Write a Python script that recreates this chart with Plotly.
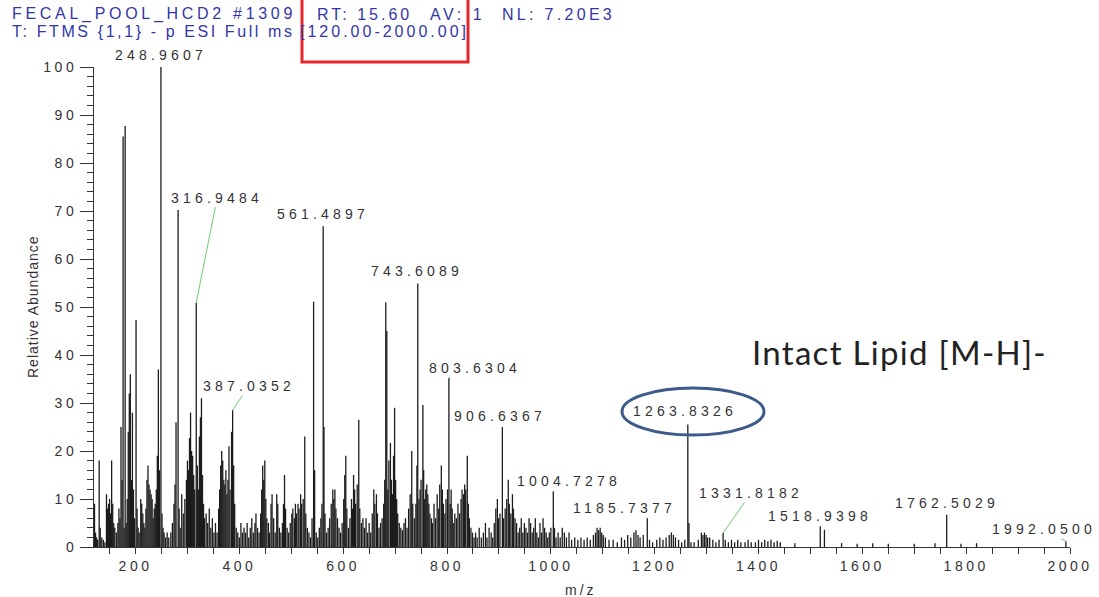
import plotly.graph_objects as go

# ---- spectrum: centroid sticks (m/z, relative abundance %) ----
mz = [
    121, 123, 125, 127, 130, 132, 135, 138, 141, 144, 146, 148, 150, 152, 154, 156, 158, 160, 163, 166, 168, 170,
    172, 174, 176, 178, 180, 182, 184, 186, 188, 190, 192, 194, 196, 198, 201, 203, 205, 207,
    210, 212, 214, 216, 218, 220, 222, 224, 226, 228, 230, 232, 234, 236, 238, 240, 242, 244, 246, 248.9607, 251, 253, 255,
    258, 261, 264, 268, 271, 274, 276, 278, 282, 284, 286, 289, 292, 295, 298, 300, 302,
    304, 306, 308, 310, 312, 314, 316.9484, 319, 321, 323, 325, 327, 329, 331, 333, 336, 339,
    342, 345, 348, 351, 354, 357, 360, 362, 364, 366, 368, 370, 372, 374, 376, 378, 380, 382, 385, 387.0352, 389, 391, 394, 397,
    400, 403, 406, 409, 412, 415, 418, 421, 424, 427, 430, 432, 435, 438,
    441, 443, 445, 447, 449, 451, 453, 456, 458, 461, 463, 466, 469, 472, 474, 477, 480, 483, 485, 487, 489, 492, 495, 498,
    501, 503, 506, 508, 510, 513, 515, 518, 520, 523, 526, 528, 531, 534, 537, 540, 543, 545, 548, 551, 554, 557, 559,
    561.4897, 563, 565, 568, 571, 574, 577, 580, 582, 584, 586, 589, 592, 595, 598, 601, 603, 605, 607, 610, 613, 616, 618,
    620, 622, 624, 627, 630, 632, 635, 638, 641, 644, 647, 650, 653, 656, 659, 661, 664, 666, 669, 672, 675, 678,
    680, 682, 684, 686, 688, 691, 693, 695, 697, 699, 701, 703, 705, 708, 711, 714, 717, 720, 723, 726, 729, 732, 734, 737, 740, 742,
    743.6089, 746, 748, 750, 753.5, 755, 757, 759, 761, 763, 765, 767, 770, 772, 775, 778, 781, 784, 786, 789, 791, 793, 796, 798, 801,
    803.6304, 806, 808, 810, 812, 815, 818, 821, 824, 827, 829, 832, 834, 836, 839, 841, 843, 846, 849, 852, 855, 858,
    862, 866, 870, 874, 877, 881, 885, 888, 891, 894, 897, 899, 902,
    906.6367, 909, 912, 915, 918, 920, 923, 926, 928, 931, 934, 937, 940, 943, 946, 949, 952, 955, 958,
    961, 964, 967, 970, 973, 976, 979, 982, 985, 988, 991, 994, 997, 1000, 1004.7278, 1007, 1010, 1014, 1018, 1022, 1026, 1030, 1035, 1040, 1046,
    1052, 1058, 1064, 1070, 1076, 1082, 1086, 1089, 1092, 1095, 1098, 1101, 1105, 1112, 1120, 1128, 1136, 1142, 1148, 1154, 1160, 1164, 1168, 1172, 1178, 1185.7377, 1190, 1196,
    1204, 1210, 1216, 1222, 1228, 1232, 1236, 1240, 1246, 1252, 1258, 1263.8326, 1266, 1270,
    1276, 1284, 1290, 1293, 1296, 1299, 1302, 1306, 1312, 1318, 1324, 1331.8182, 1336, 1342, 1348, 1354, 1360, 1366, 1374, 1380, 1386, 1394, 1400, 1406, 1412, 1418, 1424, 1430, 1436, 1442,
    1470, 1518.9398, 1527, 1560, 1590, 1620, 1650, 1700, 1740, 1762.5029, 1790, 1820, 1992.0500,
]
intensity = [
    9, 3, 2, 1.5, 18, 4, 2, 1.5, 1, 11, 8, 9, 10, 7, 18, 9, 5, 4, 3, 5, 8, 6,
    25, 14, 85.5, 4, 87.7, 5, 10, 24, 32, 36, 14, 28, 12, 6, 47.3, 8, 4, 3,
    10, 9, 7, 5, 4, 8, 14, 17, 13, 12, 11, 10, 6, 8, 9, 12, 19, 37, 16, 100, 7, 4, 3,
    2, 3, 2, 3, 5, 9, 13, 26, 70.2, 8, 4, 11, 7, 10, 14, 18, 16,
    22.7, 28, 20, 19, 15, 12, 50.9, 17, 12, 23, 27, 31, 15, 9, 6, 7, 5,
    8, 4, 6, 3, 5, 3, 8, 12, 17, 20, 18, 14, 13, 16, 11, 14, 21, 12, 24, 28.5, 17, 9, 4, 3,
    2, 5, 3, 4, 3, 5, 2, 4, 6, 3, 5, 7, 4, 3,
    7, 12, 17, 14, 18, 10, 6, 5, 3, 9, 11, 6, 3, 11, 9, 4, 3, 5, 9, 15, 8, 4, 3, 5,
    7, 8, 6, 9, 7, 9, 8, 11, 9, 10, 23, 7, 4, 3, 2, 6, 51.1, 16, 3, 2, 4, 6, 9,
    66.8, 25, 7, 3, 4, 6, 9, 12, 10, 12, 8, 6, 4, 3, 5, 10, 15, 19, 8, 4, 6, 10, 8,
    15, 12, 9, 13, 26.5, 8, 5, 6, 4, 6, 3, 5, 3, 7, 12, 9, 11, 7, 4, 5, 6, 9,
    14, 51, 45, 12, 18, 21.7, 14, 11, 19, 29, 14, 10, 7, 5, 4, 3.5, 5, 6, 4, 8, 11, 20, 9, 6, 9, 17,
    54.9, 10, 12, 14, 29.6, 16, 10, 12, 13, 11, 9, 7, 6, 5, 9, 6, 11, 8, 13, 17, 12, 9, 7, 10, 12,
    35.2, 9, 12, 8, 5, 7, 6, 9, 7, 10, 12, 11, 13, 12, 19, 9, 6, 4, 3, 2, 3, 2,
    4, 2, 3, 5, 2, 4, 3, 2, 5, 8, 10, 6, 7,
    25.0, 6, 8, 10, 14, 9, 7, 11, 8, 6, 5, 3, 4, 6, 3, 5, 4, 3, 6,
    5, 3, 4, 6, 3, 2, 5, 3, 6, 4, 3, 2, 3, 4, 11.6, 4, 2, 3, 2, 4, 3, 2, 3, 1.5, 2,
    1.5, 2, 1.5, 2, 1.5, 2.5, 3, 4, 3.5, 4, 3, 2.5, 2, 1.5, 1.5, 1, 2, 1.5, 2.5, 2, 3, 3.5, 2.5, 2, 2.5, 6.0, 1.5, 1,
    1.5, 2, 1.5, 2, 2.5, 3, 2.5, 2, 1.5, 1, 1.5, 25.5, 5, 1,
    1, 1.5, 3, 2.5, 3, 2.5, 2, 2, 1.5, 1, 1.5, 2.9, 1.5, 1, 1.5, 1, 1.5, 1, 1, 1.5, 1, 1, 1.5, 1, 1.5, 1.2, 1.5, 1, 1.3, 1,
    0.8, 4.3, 3.6, 0.8, 0.7, 0.8, 0.7, 0.7, 0.8, 6.7, 0.7, 0.8, 1.2,
]

# annotated peaks and the pixel offset of each label from its peak top (dx, dy, leader)
labelled_mz = [248.9607, 316.9484, 387.0352, 561.4897, 743.6089, 803.6304, 906.6367,
               1004.7278, 1185.7377, 1263.8326, 1331.8182, 1518.9398, 1762.5029, 1992.0500]
label_offsets = [(0, -12, False), (21, -105, True), (16, -24, True), (0, -12, False),
                 (-1, -12, False), (26, -10, True), (-2, -11, False), (16, -10, True),
                 (-23, -10, True), (-3, -14, False), (28, -40, True), (0, -10, False),
                 (0, -12, False), (-22, -12, True)]

x_tick_vals = [200, 400, 600, 800, 1000, 1200, 1400, 1600, 1800, 2000]
y_tick_vals = [0, 10, 20, 30, 40, 50, 60, 70, 80, 90, 100]

header_line1 = ["FECAL_POOL_HCD2 #1309", "RT: 15.60", "AV: 1", "NL: 7.20E3"]
header_line2 = ["T: FTMS {1,1} - p ESI Full ms", "[120.00-2000.00]"]
callout = "Intact Lipid [M-H]-"

# ---- layout geometry (pixels) ----
W, H = 1099, 597
L, R, T, B = 94, 29, 67, 50
PW, PH = W - L - R, H - T - B

FONT = "Liberation Sans, Arial, sans-serif"
HEAD_BLUE = "#3236a8"
TEXT_GREY = "#333333"
LEADER = "#6fcc6f"


def spaced(text, ls):
    return f'<span style="letter-spacing:{ls}px">{text}</span>'


def px_x(px):
    return (px - L) / PW


def px_y(py):
    return (H - B - py) / PH


# sticks: each peak is a vertical segment from 0 to its abundance
sx, sy = [], []
for m, h in zip(mz, intensity):
    sx += [m, m, None]
    sy += [0, h, None]

fig = go.Figure()
fig.add_trace(go.Scatter(x=sx, y=sy, mode="lines",
                         line=dict(color="#1c1c1c", width=1.3),
                         hoverinfo="skip", showlegend=False))

annotations = []
for m, (dx, dy, leader) in zip(labelled_mz, label_offsets):
    h = intensity[mz.index(m)]
    txt = spaced(f"{m:.4f}", 4.2)
    if leader:
        annotations.append(dict(x=m, y=h, xref="x", yref="y", text=txt,
                                showarrow=True, arrowhead=0, arrowwidth=1,
                                arrowcolor=LEADER, standoff=0, ax=dx, ay=dy,
                                font=dict(family=FONT, size=14, color=TEXT_GREY)))
    else:
        annotations.append(dict(x=m, y=h, xref="x", yref="y", text=txt,
                                showarrow=False, xanchor="center", yanchor="middle",
                                xshift=dx, yshift=-dy,
                                font=dict(family=FONT, size=14, color=TEXT_GREY)))

# scan header (left edge in px, letter spacing in px)
for text, left, ls in zip(header_line1, [10, 315, 428, 500], [3.7, 3.0, 3.6, 3.3]):
    annotations.append(dict(x=px_x(left), y=px_y(14), xref="paper", yref="paper",
                            text=spaced(text, ls), showarrow=False,
                            xanchor="left", yanchor="middle",
                            font=dict(family=FONT, size=16, color=HEAD_BLUE)))
for text, left, ls in zip(header_line2, [10, 298], [2.6, 3.0]):
    annotations.append(dict(x=px_x(left), y=px_y(31), xref="paper", yref="paper",
                            text=spaced(text, ls), showarrow=False,
                            xanchor="left", yanchor="middle",
                            font=dict(family=FONT, size=16, color=HEAD_BLUE)))

# axis titles
annotations.append(dict(x=px_x(33), y=px_y(307), xref="paper", yref="paper",
                        text=spaced("Relative Abundance", 1), textangle=-90,
                        showarrow=False, xanchor="center", yanchor="middle",
                        font=dict(family=FONT, size=14, color=TEXT_GREY)))
annotations.append(dict(x=px_x(581), y=px_y(590), xref="paper", yref="paper",
                        text=spaced("m/z", 3), showarrow=False,
                        xanchor="center", yanchor="middle",
                        font=dict(family=FONT, size=14, color=TEXT_GREY)))

# callout text
annotations.append(dict(x=px_x(899), y=px_y(352), xref="paper", yref="paper",
                        text=spaced(callout, 1.3), showarrow=False,
                        xanchor="center", yanchor="middle",
                        font=dict(family="Lato, Open Sans, sans-serif", size=33, color="#222222")))

shapes = [
    # scan-range highlight box
    dict(type="rect", xref="paper", yref="paper",
         x0=px_x(302), x1=px_x(468), y0=px_y(62), y1=px_y(-6),
         line=dict(color="#e3262b", width=3), fillcolor="rgba(0,0,0,0)"),
    # ellipse around the intact lipid ion
    dict(type="circle", xref="paper", yref="paper",
         x0=px_x(622), x1=px_x(764), y0=px_y(435), y1=px_y(388),
         line=dict(color="#3d5a8a", width=3), fillcolor="rgba(0,0,0,0)"),
]

fig.update_layout(
    width=W, height=H, autosize=False,
    margin=dict(l=L, r=R, t=T, b=B, autoexpand=False),
    paper_bgcolor="white", plot_bgcolor="white",
    font=dict(family=FONT, size=14, color=TEXT_GREY),
    annotations=annotations, shapes=shapes,
    xaxis=dict(range=[120, 2000], showgrid=False, zeroline=False, automargin=False,
               showline=True, linecolor="#333", linewidth=1,
               ticks="outside", ticklen=6, tickcolor="#333",
               tickmode="array", tickvals=x_tick_vals,
               ticktext=[spaced(str(v), 3.5) for v in x_tick_vals],
               tickfont=dict(family=FONT, size=14, color=TEXT_GREY),
               minor=dict(dtick=50, tick0=0, ticklen=6, ticks="outside",
                          tickcolor="#333", showgrid=False)),
    yaxis=dict(range=[0, 100], showgrid=False, zeroline=False, automargin=False,
               showline=True, linecolor="#333", linewidth=1,
               ticks="outside", ticklen=13, tickcolor="#333",
               tickmode="array", tickvals=y_tick_vals,
               ticktext=[spaced(str(v), 3.5) for v in y_tick_vals],
               tickfont=dict(family=FONT, size=14, color=TEXT_GREY),
               minor=dict(dtick=2, tick0=0, ticklen=6, ticks="outside",
                          tickcolor="#333", showgrid=False)),
)

fig.write_html("out.html")
